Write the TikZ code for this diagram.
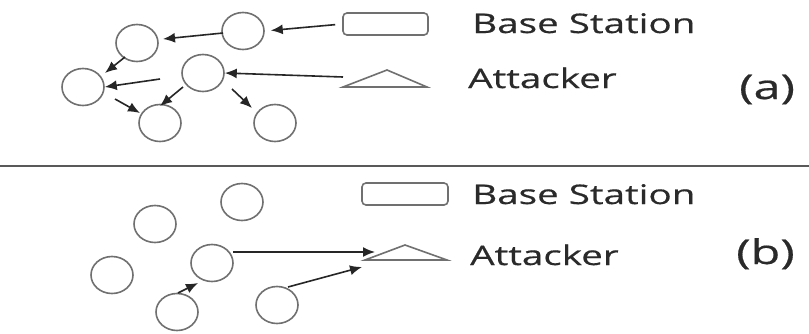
\documentclass[tikz,border=0pt]{standalone}
\usepackage{fontspec}
\setmainfont{Open Sans}
\newfontfamily\labelfont[FakeStretch=1.43,FakeBold=0.5]{Open Sans}
\usetikzlibrary{arrows.meta,shapes.geometric}
\definecolor{nodegray}{HTML}{707070}
\definecolor{linkgray}{HTML}{262626}
\definecolor{textgray}{HTML}{2A2A2A}
\tikzset{
  sensor/.style={ellipse,draw=nodegray,line width=1.6pt,minimum width=42pt,minimum height=37pt,inner sep=0pt},
  basebox/.style={rectangle,rounded corners=4pt,draw=nodegray,line width=1.6pt,inner sep=0pt},
  link/.style={draw=linkgray,line width=1.6pt,-{Latex[length=12pt,width=10pt]}},
  legend/.style={anchor=base west,inner sep=0pt,text=textgray,font=\labelfont\fontsize{27}{30}\selectfont},
  tag/.style={anchor=base west,inner sep=0pt,text=textgray,font=\labelfont\fontsize{34}{38}\selectfont},
  attacker/.style={draw=nodegray,line width=1.6pt,line join=miter}
}
\begin{document}
\begin{tikzpicture}[x=1pt,y=-1pt]
\useasboundingbox (0,0) rectangle (809,333);
\fill[white] (0,0) rectangle (809,333);

% ---------- (a) upper network ----------
\node[sensor] (a1) at (243,31) {};
\node[sensor] (a2) at (137,43) {};
\node[sensor] (a3) at (83,87) {};
\node[sensor] (a4) at (203,73) {};
\node[sensor] (a5) at (160,123) {};
\node[sensor] (a6) at (275,123) {};
\node[basebox,minimum width=85pt,minimum height=22pt] (bsa) at (385.5,24) {};
\coordinate (ta1) at (343,87);
\coordinate (ta2) at (387,70);
\coordinate (ta3) at (427,87);
\draw[attacker] (ta1) -- (ta2) -- (ta3) -- cycle;
\coordinate (atka) at (343,77);
\coordinate (loose) at (160,79);

\draw[link,shorten <=7pt,shorten >=6pt] (bsa.west) -- (a1.east);
\draw[link] (223,33) -- (163,39);
\draw[link] (125,57) -- (105,73);
\draw[link] (loose) -- (a3.east);
\draw[link] (atka) -- (a4.east);
\draw[link] (183,87) -- (160,106);
\draw[link] (115,99) -- (140,113);
\draw[link] (232,89) -- (252,108);

\node[legend] (bsla) at (472,33) {Base Station};
\node[legend] (atla) at (468,88) {Attacker};
\node[tag] (taga) at (739,99) {(a)};

% ---------- separator ----------
\coordinate (sepl) at (0,166);
\coordinate (sepr) at (809,166);
\draw[draw=black!65,line width=2.6pt] (sepl) -- (sepr);

% ---------- (b) lower network ----------
\node[sensor] (b1) at (155,224) {};
\node[sensor] (b2) at (242,202) {};
\node[sensor] (b3) at (112,275) {};
\node[sensor] (b4) at (212,263) {};
\node[sensor] (b5) at (177,312) {};
\node[sensor] (b6) at (277,305) {};
\node[basebox,minimum width=86pt,minimum height=22pt] (bsb) at (405,194) {};
\coordinate (tb1) at (365,260);
\coordinate (tb2) at (405,245);
\coordinate (tb3) at (447,260);
\draw[attacker] (tb1) -- (tb2) -- (tb3) -- cycle;
\coordinate (atkb1) at (375,252);
\coordinate (atkb2) at (362,267);

\draw[link] (233,252) -- (atkb1);
\draw[link] (288,287) -- (atkb2);
\draw[link] (178,293) -- (198,283);

\node[legend] (bslb) at (472,204) {Base Station};
\node[legend] (atlb) at (470,265) {Attacker};
\node[tag] (tagb) at (736,264) {(b)};
\end{tikzpicture}
\end{document}
